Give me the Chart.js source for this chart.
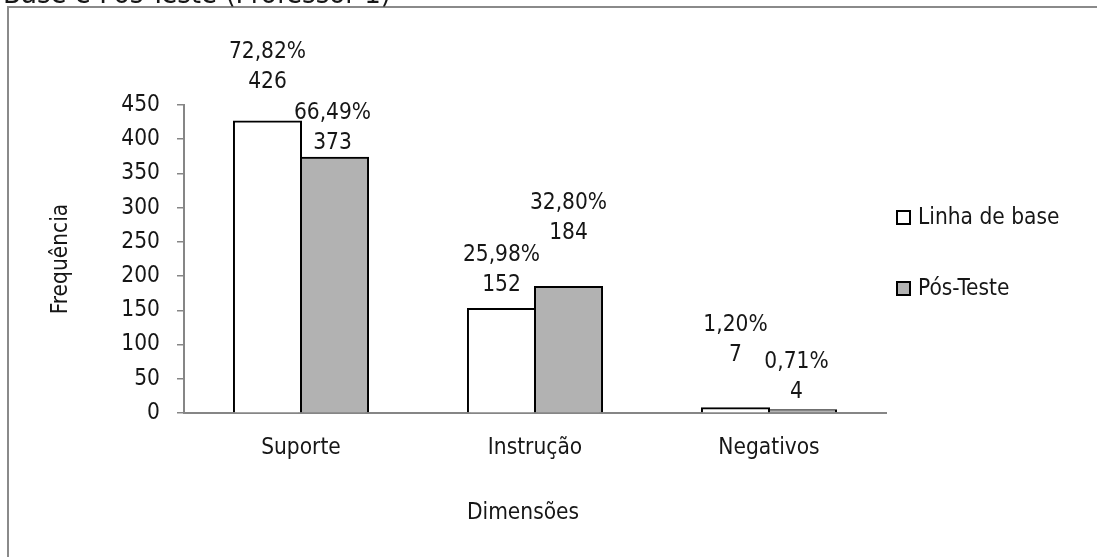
<!DOCTYPE html>
<html>
<head>
<meta charset="utf-8">
<script src="https://cdn.jsdelivr.net/npm/chart.js@4.4.1/dist/chart.umd.min.js"></script>
<style>
  html, body { margin: 0; padding: 0; background: #fff; }
  #wrap { width: 1097px; height: 557px; position: relative; }
</style>
</head>
<body>
<div id="wrap"><canvas id="c" width="1097" height="557"></canvas></div>
<script>
// Frequencies by dimension, baseline vs. post-test
const categories = ['Suporte', 'Instrução', 'Negativos'];
const seriesNames = ['Linha de base', 'Pós-Teste'];
const baselineCounts = [426, 152, 7];
const postTestCounts = [373, 184, 4];
const yTicks = [0, 50, 100, 150, 200, 250, 300, 350, 400, 450];

const FONT = '"DejaVu Sans Condensed", "DejaVu Sans"';
const FSIZE = 22.5;
const TEXT = '#161616';
const AXIS = '#868686';

// percentage of each count within its own series, written with a decimal comma
function pct(values, i) {
  const total = values.reduce((a, b) => a + b, 0);
  return (values[i] / total * 100).toFixed(2).replace('.', ',') + '%';
}

// two-line value labels above each bar (percentage over count)
const barLabels = {
  id: 'barLabels',
  afterDatasetsDraw(chart, args, opts) {
    const ctx = chart.ctx;
    ctx.save();
    ctx.font = `${FSIZE}px ${FONT}`;
    ctx.fillStyle = TEXT;
    ctx.textAlign = 'center';
    ctx.textBaseline = 'middle';
    chart.data.datasets.forEach((ds, i) => {
      chart.getDatasetMeta(i).data.forEach((el, j) => {
        const x = el.x + opts.shiftX[i][j];
        const y = el.y - opts.lift[i][j];
        ctx.fillText(String(ds.data[j]), x, y);
        ctx.fillText(pct(ds.data, j), x, y - 30);
      });
    });
    ctx.restore();
  }
};

// legend at the right of the plot
const sideLegend = {
  id: 'sideLegend',
  afterDraw(chart) {
    const ctx = chart.ctx;
    const a = chart.chartArea;
    const rows = [a.top + 112, a.top + 183];
    ctx.save();
    ctx.font = `${FSIZE}px ${FONT}`;
    ctx.textBaseline = 'middle';
    ctx.textAlign = 'left';
    chart.data.datasets.forEach((ds, i) => {
      const y = rows[i];
      ctx.fillStyle = ds.backgroundColor;
      ctx.fillRect(a.right + 11, y - 6, 13, 13);
      ctx.lineWidth = 2;
      ctx.strokeStyle = '#000';
      ctx.strokeRect(a.right + 11, y - 6, 13, 13);
      ctx.fillStyle = TEXT;
      ctx.fillText(ds.label, a.right + 32, y + 1);
    });
    ctx.restore();
  }
};

// outer frame, the title line running off the top edge, and the x-axis caption
const frame = {
  id: 'frame',
  beforeDraw(chart) {
    const ctx = chart.ctx;
    ctx.save();
    ctx.fillStyle = '#fff';
    ctx.fillRect(0, 0, chart.width, chart.height);
    ctx.restore();
  },
  afterDraw(chart) {
    const ctx = chart.ctx;
    const a = chart.chartArea;
    ctx.save();
    ctx.strokeStyle = '#8a8a8a';
    ctx.lineWidth = 2;
    ctx.beginPath();
    ctx.moveTo(8, chart.height);
    ctx.lineTo(8, 7);
    ctx.lineTo(chart.width, 7);
    ctx.stroke();
    ctx.fillStyle = TEXT;
    ctx.textAlign = 'left';
    ctx.textBaseline = 'alphabetic';
    ctx.font = `29px ${FONT}`;
    ctx.fillText('Base e Pós-Teste (Professor 1)', 3, 3);
    ctx.font = `${FSIZE}px ${FONT}`;
    ctx.textAlign = 'center';
    ctx.textBaseline = 'middle';
    ctx.fillText('Dimensões', (a.left + a.right) / 2 - 12, a.bottom + 100);
    ctx.restore();
  }
};

const axisFont = { family: FONT, size: FSIZE };

new Chart(document.getElementById('c'), {
  type: 'bar',
  data: {
    labels: categories,
    datasets: [
      { label: seriesNames[0], data: baselineCounts, backgroundColor: '#ffffff',
        borderColor: '#000000', borderWidth: 2, inflateAmount: 1 },
      { label: seriesNames[1], data: postTestCounts, backgroundColor: '#b2b2b2',
        borderColor: '#000000', borderWidth: 2, inflateAmount: 1 }
    ]
  },
  options: {
    responsive: false,
    animation: false,
    devicePixelRatio: 1,
    layout: { padding: { left: 10, right: 211, top: 105, bottom: 20 } },
    datasets: { bar: { categoryPercentage: 0.573, barPercentage: 1.0 } },
    plugins: {
      legend: { display: false },
      tooltip: { enabled: false },
      barLabels: {
        lift: [[39, 24, 53], [15, 54, 18]],
        shiftX: [[0, 0, 0], [-2, 0, -6]]
      }
    },
    scales: {
      x: {
        grid: { display: true, drawOnChartArea: false, drawTicks: false },
        border: { display: true, color: AXIS, width: 2 },
        ticks: { color: TEXT, font: axisFont, padding: 22 },
        title: { display: false },
        afterFit(s) { s.height = 124; }
      },
      y: {
        min: 0,
        max: 450,
        afterBuildTicks(s) { s.ticks = yTicks.map(v => ({ value: v })); },
        grid: { drawOnChartArea: false, drawTicks: true, tickLength: 7, color: AXIS, lineWidth: 1.5 },
        border: { display: true, color: AXIS, width: 2 },
        ticks: { color: TEXT, font: axisFont, padding: 17 },
        title: { display: true, text: 'Frequência', color: TEXT,
                 font: axisFont, padding: { top: 38, bottom: 0 } },
        afterFit(s) { s.width = 174; }
      }
    }
  },
  plugins: [frame, barLabels, sideLegend]
});
</script>
</body>
</html>
